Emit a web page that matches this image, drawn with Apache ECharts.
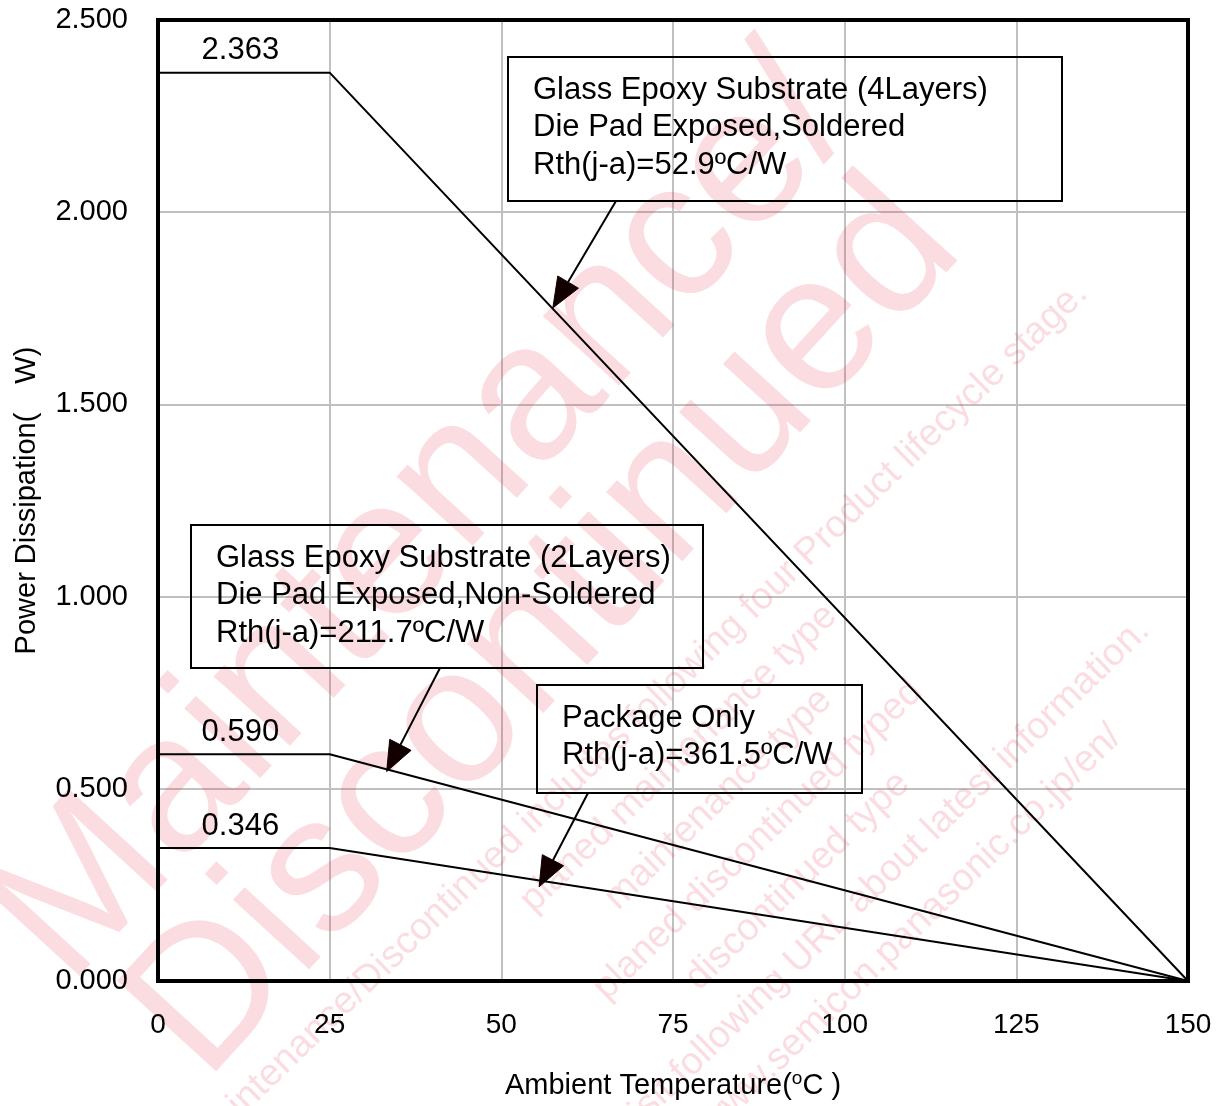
<!DOCTYPE html>
<html>
<head>
<meta charset="utf-8">
<script src="https://cdn.jsdelivr.net/npm/echarts/dist/echarts.min.js"></script>
<style>
html,body{margin:0;padding:0;background:#fff;}
#c{width:1225px;height:1106px;}
</style>
</head>
<body>
<div id="c"></div>
<script>
// ---------- data ----------
const temps = [0, 25, 150];
const pd4Layers = [2.363, 2.363, 0];
const pd2Layers = [0.590, 0.590, 0];
const pdPackage = [0.346, 0.346, 0];
const xTicks = [0, 25, 50, 75, 100, 125, 150];
const yTicks = [0, 0.5, 1.0, 1.5, 2.0, 2.5];
const valueLabels = [2.363, 0.590, 0.346];
const labelTemp = 12;
const note4Layers = ['Glass Epoxy Substrate (4Layers)', 'Die Pad Exposed,Soldered', 'Rth(j-a)=52.9\u00baC/W'];
const note2Layers = ['Glass Epoxy Substrate (2Layers)', 'Die Pad Exposed,Non-Soldered', 'Rth(j-a)=211.7\u00baC/W'];
const notePackage = ['Package Only', 'Rth(j-a)=361.5\u00baC/W'];
// arrow tips in data coordinates (on the curves)
const arrowTips = [[57.5, 1.751], [33.3, 0.545], [55.5, 0.245]];
const watermarkBig = ['Maintenance/', 'Discontinued'];
const watermarkSmall = [
  'Maintenance/Discontinued includes following four Product lifecycle stage.',
  'planed maintenance type',
  'maintenance type',
  'planed discontinued typed',
  'discontinued type',
  'Please visit following URL about latest information.',
  'http://www.semicon.panasonic.co.jp/en/'
];

// ---------- layout (pixels) ----------
const FONT = '"Liberation Sans", Arial, Helvetica, sans-serif';
const boxes = [
  {lines: note4Layers, x: 508, y: 57, w: 554, h: 144, start: [616, 201]},
  {lines: note2Layers, x: 191, y: 525, w: 512, h: 143, start: [440, 668]},
  {lines: notePackage, x: 537, y: 685, w: 325, h: 108, start: [588, 793]}
];

const chart = echarts.init(document.getElementById('c'), null, {renderer: 'canvas'});
const lineStyle = {color: '#000', width: 2};
function mk(name, vals) {
  return {name, type: 'line', data: temps.map((t, i) => [t, vals[i]]),
    symbol: 'none', lineStyle, z: 5, silent: true};
}

chart.setOption({
  animation: false,
  backgroundColor: '#fff',
  grid: {left: 158, right: 37, top: 20, bottom: 125},
  xAxis: {
    type: 'value', min: xTicks[0], max: xTicks[xTicks.length - 1], interval: 25,
    axisLine: {show: true, lineStyle: {color: '#000', width: 4}},
    axisTick: {show: false},
    splitLine: {show: true, lineStyle: {color: '#c0c0c0', width: 2}},
    axisLabel: {color: '#000', fontSize: 28, fontFamily: FONT, margin: 30,
      formatter: v => String(v)},
    name: '{a|Ambient Temperature(}{sup|o}{a|C )}',
    nameLocation: 'middle', nameGap: 88,
    nameTextStyle: {color: '#000', fontSize: 29, fontFamily: FONT,
      rich: {a: {fontSize: 29, fontFamily: FONT, color: '#000'},
             sup: {fontSize: 19, fontFamily: FONT, color: '#000', padding: [0, 0, 14, 0]}}}
  },
  yAxis: {
    type: 'value', min: yTicks[0], max: yTicks[yTicks.length - 1], interval: 0.5,
    axisLine: {show: true, lineStyle: {color: '#000', width: 4}},
    axisTick: {show: false},
    splitLine: {show: true, lineStyle: {color: '#c0c0c0', width: 2}},
    axisLabel: {color: '#000', fontSize: 29, fontFamily: FONT, margin: 30,
      formatter: v => v.toFixed(3)},
    name: 'Power Dissipation(\u2002\u2002W)',
    nameLocation: 'middle', nameGap: 117, nameRotate: 90,
    nameTextStyle: {color: '#000', fontSize: 29, fontFamily: FONT}
  },
  series: [mk('4Layers', pd4Layers), mk('2Layers', pd2Layers), mk('Package', pdPackage)]
});

function px(p) { return chart.convertToPixel({gridIndex: 0}, p); }

const g = [];
const WM = 'rgba(230,40,70,0.16)';
// big watermark
g.push({
  type: 'group', x: 485, y: 575, rotation: 0.83, z: -10, silent: true,
  children: watermarkBig.map((t, i) => ({
    type: 'text', x: 0, y: (i - 0.5) * 165,
    style: {text: t, font: '195px ' + FONT, fill: WM,
      align: 'center', verticalAlign: 'middle', textAlign: 'center', textVerticalAlign: 'middle'}
  }))
});
// small watermark
g.push({
  type: 'group', x: 758, y: 840, rotation: 0.77, z: -10, silent: true,
  children: watermarkSmall.map((t, i) => ({
    type: 'text', x: 0, y: (i - 3) * 57,
    style: {text: t, font: '38px ' + FONT, fill: WM,
      align: 'center', verticalAlign: 'middle', textAlign: 'center', textVerticalAlign: 'middle'}
  }))
});

// plot frame (top and right borders)
const tl = px([xTicks[0], yTicks[yTicks.length - 1]]);
const br = px([xTicks[xTicks.length - 1], yTicks[0]]);
g.push({type: 'rect', z: 30, silent: true,
  shape: {x: tl[0], y: tl[1], width: br[0] - tl[0], height: br[1] - tl[1]},
  style: {fill: 'rgba(0,0,0,0)', stroke: '#000', lineWidth: 4}});

// value labels
valueLabels.forEach(v => {
  const p = px([labelTemp, v]);
  g.push({type: 'text', x: p[0], y: p[1] - 22, z: 20, silent: true,
    style: {text: v.toFixed(3), font: '31px ' + FONT, fill: '#000',
      align: 'center', verticalAlign: 'middle', textAlign: 'center', textVerticalAlign: 'middle'}});
});

// annotation boxes + arrows
boxes.forEach((b, k) => {
  g.push({type: 'rect', z: 20, silent: true,
    shape: {x: b.x, y: b.y, width: b.w, height: b.h},
    style: {fill: 'rgba(255,255,255,0)', stroke: '#000', lineWidth: 2}});
  b.lines.forEach((t, i) => {
    g.push({type: 'text', x: b.x + 25, y: b.y + 33 + i * 37.5, z: 21, silent: true,
      style: {text: t, font: '31px ' + FONT, fill: '#000',
        align: 'left', verticalAlign: 'middle', textAlign: 'left', textVerticalAlign: 'middle'}});
  });
  const tip = px(arrowTips[k]);
  const s = b.start;
  const dx = tip[0] - s[0], dy = tip[1] - s[1];
  const L = Math.sqrt(dx * dx + dy * dy);
  const ux = dx / L, uy = dy / L;
  const hl = 30, hw = 12;
  const bx = tip[0] - ux * hl, by = tip[1] - uy * hl;
  g.push({type: 'line', z: 20, silent: true,
    shape: {x1: s[0], y1: s[1], x2: bx, y2: by},
    style: {stroke: '#000', lineWidth: 2}});
  g.push({type: 'polygon', z: 20, silent: true,
    shape: {points: [[tip[0], tip[1]], [bx - uy * hw, by + ux * hw], [bx + uy * hw, by - ux * hw]]},
    style: {fill: '#120000', stroke: '#120000', lineWidth: 1}});
});

chart.setOption({graphic: g});
</script>
</body>
</html>
